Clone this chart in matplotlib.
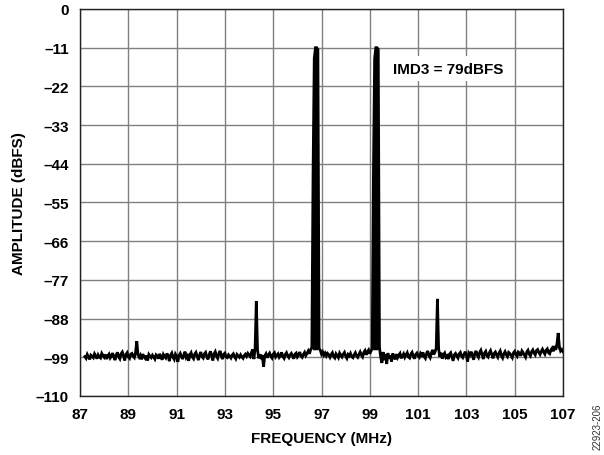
import numpy as np
import matplotlib
matplotlib.use("Agg")
import matplotlib.pyplot as plt

# spectrum bins: start frequency and bin spacing (MHz)
freq_start = 87.2
freq_step = 0.05

# amplitude of each bin (dBFS)
amplitude_dbfs = [
    -98.8, -99.3, -98.2, -98.9, -99.6, -98.4, -98.7, -99.1, -98.0, -98.6, -99.4, -98.3, -98.9, -99.2, -97.9, -98.5, -99.0, -98.2, -99.5, -98.6,
    -98.1, -99.2, -98.7, -97.8, -98.9, -99.8, -98.3, -97.6, -98.8, -99.4, -98.0, -97.5, -98.6, -99.9, -98.2, -97.7, -98.9, -99.3, -98.1, -97.9,
    -98.7, -99.1, -97.6, -94.4, -98.3, -99.0, -98.4, -99.6, -98.1, -98.8, -99.3, -98.5, -99.9, -98.2, -98.7, -99.1, -98.4, -98.9, -99.5, -98.3,
    -98.6, -99.4, -98.0, -98.9, -99.7, -98.2, -98.8, -99.2, -97.9, -98.6, -100.1, -98.4, -97.8, -99.0, -99.6, -98.1, -98.7, -100.3, -98.5, -97.9,
    -98.8, -99.5, -98.2, -97.4, -99.1, -98.6, -100.0, -98.3, -97.7, -98.9, -99.4, -98.1, -97.6, -98.7, -99.8, -98.4, -97.5, -98.8, -99.2, -98.0,
    -97.6, -98.9, -99.6, -98.2, -97.3, -98.5, -99.9, -98.0, -97.4, -98.7, -99.3, -97.9, -97.2, -98.6, -99.5, -98.1, -97.8, -98.9, -99.1, -98.3,
    -98.7, -99.2, -98.4, -98.0, -98.8, -99.4, -98.2, -98.6, -99.0, -98.3, -98.9, -99.3, -98.5, -98.1, -98.7, -97.9, -98.4, -98.8, -97.6, -96.8,
    -99.5, -96.5, -83.0, -96.9, -99.3, -98.2, -99.0, -98.4, -101.7, -98.6, -98.0, -99.1, -98.3, -97.8, -98.7, -99.2, -98.1, -97.7, -98.9, -98.4,
    -98.0, -99.0, -98.5, -97.6, -98.8, -99.3, -98.2, -97.7, -98.6, -99.1, -98.3, -97.9, -98.7, -99.4, -98.1, -97.8, -98.9, -98.4, -97.5, -98.6,
    -99.0, -98.2, -97.6, -98.5, -97.9, -97.2, -98.0, -96.8, -96.2, -47.0, -14.0, -11.0, -11.0, -11.5, -96.5, -97.0, -98.1, -97.5, -98.4, -97.8,
    -98.6, -97.9, -98.3, -99.0, -98.2, -97.7, -98.8, -99.2, -98.0, -98.5, -99.1, -97.8, -98.4, -98.9, -98.1, -97.6, -98.7, -99.3, -98.2, -98.6,
    -97.9, -98.8, -99.1, -98.3, -97.7, -98.6, -99.0, -98.2, -97.5, -98.4, -98.9, -97.6, -97.1, -98.3, -97.4, -96.9, -98.0, -97.2, -96.6, -47.0,
    -14.0, -11.0, -11.0, -11.5, -96.2, -98.9, -100.6, -97.5, -99.8, -98.2, -100.9, -97.8, -99.4, -98.5, -100.2, -97.9, -98.8, -99.6, -98.1, -99.1,
    -98.4, -97.9, -99.3, -98.6, -98.0, -99.0, -98.3, -97.7, -98.9, -99.2, -98.1, -97.6, -98.7, -99.4, -98.2, -97.8, -98.6, -99.0, -97.9, -98.4,
    -97.6, -98.8, -99.3, -97.9, -97.2, -98.5, -99.1, -97.8, -96.9, -98.2, -97.5, -96.4, -82.4, -96.6, -98.9, -97.7, -99.4, -98.3, -97.8, -99.0,
    -98.6, -99.5, -98.1, -97.7, -98.8, -100.0, -98.3, -97.9, -98.6, -99.2, -98.0, -97.6, -98.7, -99.1, -98.2, -97.4, -98.5, -100.2, -97.8, -98.3,
    -97.4, -98.6, -99.7, -97.9, -97.2, -98.4, -99.0, -97.6, -97.0, -98.3, -99.5, -97.8, -97.3, -98.5, -98.9, -97.7, -97.1, -98.2, -99.3, -97.9,
    -97.5, -98.4, -99.0, -97.8, -97.2, -98.6, -99.2, -98.0, -97.4, -98.3, -98.8, -97.6, -97.9, -98.5, -99.1, -97.7, -97.3, -98.2, -98.7, -97.5,
    -97.8, -98.6, -97.2, -97.7, -98.4, -99.0, -97.5, -97.0, -98.1, -98.6, -97.4, -96.9, -97.8, -98.3, -97.1, -96.8, -97.6, -98.2, -97.3, -96.7,
    -97.5, -98.1, -97.0, -96.6, -97.7, -98.0, -96.9, -96.4, -97.3, -95.8, -96.9, -95.2, -92.1, -95.9, -97.2, -96.8, -97.4,
]

x_ticks = [87, 89, 91, 93, 95, 97, 99, 101, 103, 105, 107]
y_ticks = [0, -11, -22, -33, -44, -55, -66, -77, -88, -99, -110]

plt.rcParams['font.family'] = ['Liberation Sans', 'DejaVu Sans']

freq = freq_start + freq_step * np.arange(len(amplitude_dbfs))
amp = np.array(amplitude_dbfs)

fig = plt.figure(figsize=(6.04, 4.56), dpi=100)
ax = fig.add_axes([0.1325, 0.1294, 0.7996, 0.8487])

ax.plot(freq, amp, color='black', lw=2.0, zorder=3, solid_joinstyle='miter')
# the dense spectrum makes the tones look like solid bars
ax.fill_between(freq, amp, -97, where=amp > -95, interpolate=True,
                color='black', lw=0, zorder=3)

ax.set_xlim(87, 107)
ax.set_ylim(-110, 0)
ax.set_xticks(x_ticks)
ax.set_yticks(y_ticks)
ax.set_xticklabels([str(t) for t in x_ticks])
ax.set_yticklabels([str(t).replace('-', '\u2013') for t in y_ticks])
ax.tick_params(length=0, labelsize=11, pad=8)
for lab in ax.get_xticklabels() + ax.get_yticklabels():
    lab.set_fontweight('bold')
ax.grid(True, color='#808080', lw=1.0)
ax.set_axisbelow(True)
for s in ax.spines.values():
    s.set_color('#222222')
    s.set_linewidth(1.0)

ax.set_xlabel('FREQUENCY (MHz)', fontsize=11, fontweight='bold', labelpad=7)
ax.set_ylabel('AMPLITUDE (dBFS)', fontsize=11, fontweight='bold', labelpad=7)

ax.text(99.95, -17, 'IMD3 = 79dBFS', fontsize=11, fontweight='bold', va='center', ha='left',
        bbox=dict(facecolor='white', edgecolor='none', pad=4), zorder=4)

fig.text(0.99, 0.064, '22923-206', rotation=90, fontsize=7, color='#333333', ha='center', va='center')

fig.savefig('out.png', dpi=100)
